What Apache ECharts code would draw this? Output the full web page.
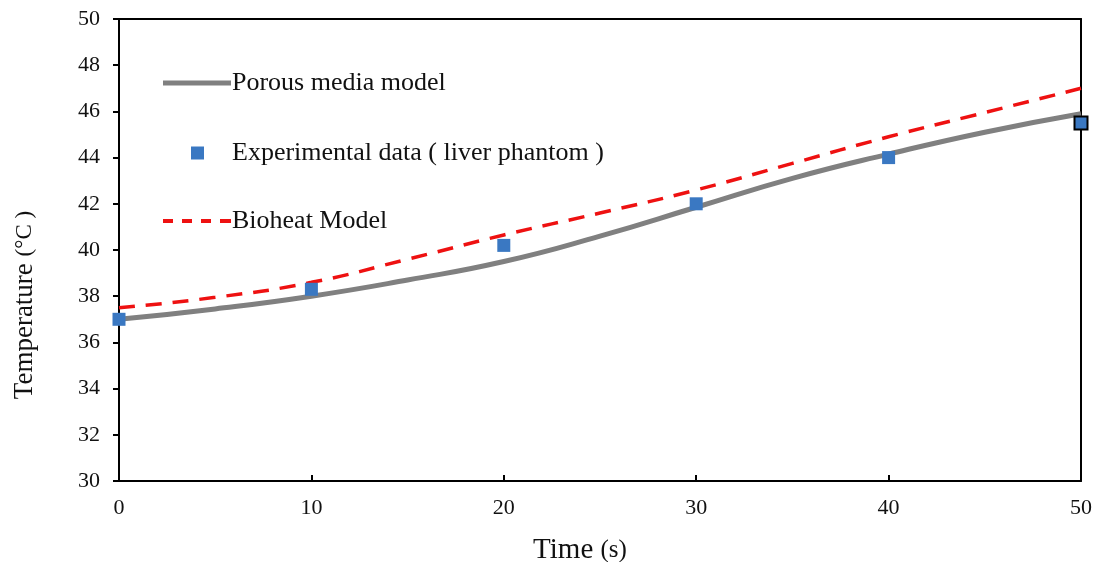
<!DOCTYPE html>
<html><head><meta charset="utf-8">
<script src="https://cdn.jsdelivr.net/npm/echarts@6/dist/echarts.min.js"></script>
<style>html,body{margin:0;padding:0;background:#fff}#c{width:1097px;height:562px}</style>
</head><body><div id="c"></div>
<script>
var timeS = [0, 5, 10, 15, 20, 25, 30, 35, 40, 45, 50];
var porous = [37.0, 37.45, 38.0, 38.7, 39.5, 40.6, 41.85, 43.1, 44.15, 45.1, 45.9];
var bioheat = [37.5, 37.95, 38.6, 39.6, 40.65, 41.6, 42.6, 43.75, 44.9, 45.95, 47.0];
var expTime = [0, 10, 20, 30, 40, 50];
var expTemp = [37.0, 38.3, 40.2, 42.0, 44.0, 45.5];

var font = 'Liberation Serif, Times New Roman, serif';
var chart = echarts.init(document.getElementById('c'));
var pair = function (xs, ys) { return xs.map(function (x, i) { return [x, ys[i]]; }); };
var expData = pair(expTime, expTemp).map(function (p, i, a) {
  return i === a.length - 1 ? { value: p, itemStyle: { borderColor: '#000', borderWidth: 2 } } : p;
});
var legText = function (padLeft) {
  return { fontFamily: font, fontSize: 26, color: '#111', padding: [0, 0, 0, padLeft] };
};
chart.setOption({
  animation: false,
  backgroundColor: '#fff',
  grid: { left: 119, right: 16, top: 19, bottom: 81, outerBoundsMode: 'none', containLabel: false },
  legend: [
    { orient: 'vertical', left: 158, top: 65, itemWidth: 68, itemHeight: 5, icon: 'rect',
      textStyle: legText(-4), data: ['Porous media model'] },
    { orient: 'vertical', left: 186, top: 135, itemWidth: 13, itemHeight: 13, icon: 'rect',
      textStyle: legText(23), data: ['Experimental data ( liver phantom )'] },
    { orient: 'vertical', left: 158, top: 203, itemWidth: 68, itemHeight: 4,
      icon: 'path://M0,0h10v4h-10z M19,0h10v4h-10z M38,0h10v4h-10z M57,0h11v4h-11z',
      textStyle: legText(-4), data: ['Bioheat Model'] }
  ],
  xAxis: [{
    type: 'value', min: 0, max: 50, interval: 10,
    name: '{a|Time }{b|(s)}', nameLocation: 'middle', nameGap: 55,
    nameTextStyle: { padding: [0, 40, 0, 0], rich: { a: { fontFamily: font, fontSize: 29, color: '#111' }, b: { fontFamily: font, fontSize: 25, color: '#111' } } },
    axisLine: { show: true, onZero: false, lineStyle: { color: '#000', width: 2 } },
    axisTick: { show: true, inside: true, length: 6, lineStyle: { color: '#000', width: 2 } },
    axisLabel: { fontFamily: font, fontSize: 22, color: '#111', margin: 16 },
    splitLine: { show: false }
  }, {
    type: 'value', min: 0, max: 50, position: 'top',
    axisLine: { show: true, onZero: false, lineStyle: { color: '#000', width: 2 } },
    axisTick: { show: false }, axisLabel: { show: false }, splitLine: { show: false }
  }],
  yAxis: [{
    type: 'value', min: 30, max: 50, interval: 2,
    name: '{a|Temperature }{b|(°C )}', nameLocation: 'middle', nameGap: 81,
    nameTextStyle: { padding: [0, 110, 0, 0], rich: { a: { fontFamily: font, fontSize: 27, color: '#111' }, b: { fontFamily: font, fontSize: 23, color: '#111' } } },
    axisLine: { show: true, onZero: false, lineStyle: { color: '#000', width: 2 } },
    axisTick: { show: true, inside: false, length: 6, lineStyle: { color: '#000', width: 2 } },
    axisLabel: { fontFamily: font, fontSize: 22, color: '#111', margin: 19 },
    splitLine: { show: false }
  }, {
    type: 'value', min: 30, max: 50, position: 'right',
    axisLine: { show: true, onZero: false, lineStyle: { color: '#000', width: 2 } },
    axisTick: { show: false }, axisLabel: { show: false }, splitLine: { show: false }
  }],
  series: [{
    name: 'Porous media model', type: 'line', smooth: true, symbol: 'none',
    data: pair(timeS, porous),
    lineStyle: { color: '#808080', width: 5 }, itemStyle: { color: '#808080' }, z: 2
  }, {
    name: 'Bioheat Model', type: 'line', smooth: true, symbol: 'none',
    data: pair(timeS, bioheat),
    lineStyle: { color: '#ee1111', width: 3.5, type: [16, 11] }, itemStyle: { color: '#ee1111' }, z: 3
  }, {
    name: 'Experimental data ( liver phantom )', type: 'scatter', symbol: 'rect', symbolSize: 13,
    data: expData, itemStyle: { color: '#3a78c2', opacity: 1 }, z: 4
  }]
});
</script></body></html>
